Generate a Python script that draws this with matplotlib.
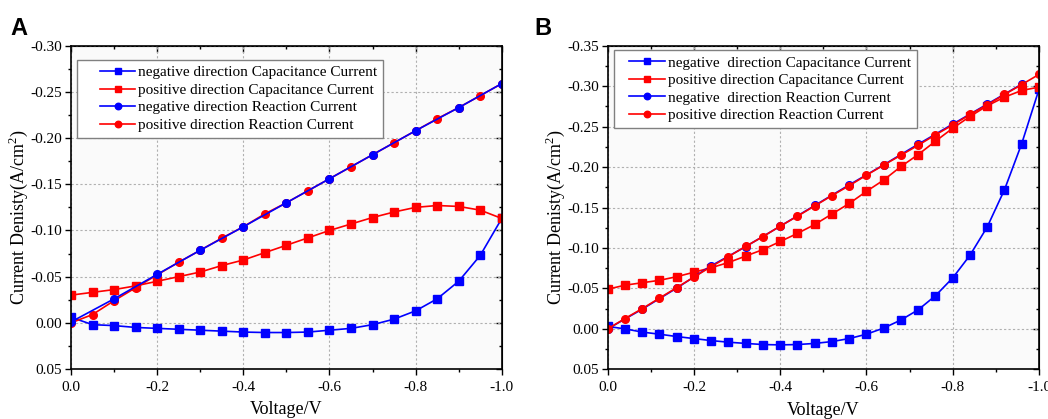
import numpy as np
import matplotlib
matplotlib.use('Agg')
import matplotlib.pyplot as plt
from matplotlib.ticker import MultipleLocator
from matplotlib.legend_handler import HandlerLine2D

plt.rcParams['font.family'] = ['Liberation Serif', 'DejaVu Serif']
plt.rcParams['mathtext.fontset'] = 'custom'
plt.rcParams['mathtext.rm'] = 'Liberation Serif'

# ---------- Panel A data ----------
xa_cap = [0.0, -0.05, -0.10, -0.15, -0.20, -0.25, -0.30, -0.35, -0.40, -0.45, -0.50,
          -0.55, -0.60, -0.65, -0.70, -0.75, -0.80, -0.85, -0.90, -0.95, -1.00]
a_neg_cap = [-0.006, 0.002, 0.003, 0.005, 0.006, 0.007, 0.008, 0.009, 0.010, 0.0105, 0.0105,
             0.010, 0.008, 0.006, 0.002, -0.004, -0.013, -0.026, -0.045, -0.073, -0.113]
a_pos_cap = [-0.030, -0.033, -0.036, -0.040, -0.045, -0.050, -0.055, -0.062, -0.068, -0.076, -0.084,
             -0.092, -0.100, -0.107, -0.114, -0.120, -0.125, -0.127, -0.126, -0.122, -0.113]
xa_neg_rea = [0.0, -0.1, -0.2, -0.3, -0.4, -0.5, -0.6, -0.7, -0.8, -0.9, -1.0]
a_neg_rea = [-0.001, -0.026, -0.0525, -0.0786, -0.104, -0.130, -0.156, -0.182, -0.208, -0.233, -0.259]
a_pos_rea = [0.0, -0.009, -0.024, -0.038, -0.052, -0.0656, -0.0786, -0.0917, -0.104, -0.118, -0.130,
             -0.143, -0.156, -0.169, -0.182, -0.195, -0.208, -0.221, -0.233, -0.246, -0.259]

# ---------- Panel B data ----------
xb_cap = [0.0, -0.04, -0.08, -0.12, -0.16, -0.20, -0.24, -0.28, -0.32, -0.36, -0.40, -0.44, -0.48,
          -0.52, -0.56, -0.60, -0.64, -0.68, -0.72, -0.76, -0.80, -0.84, -0.88, -0.92, -0.96, -1.00]
b_neg_cap = [-0.003, 0.000, 0.004, 0.0066, 0.0095, 0.012, 0.0145, 0.0165, 0.018, 0.0194, 0.0198, 0.0194, 0.018,
             0.0157, 0.012, 0.0066, -0.001, -0.011, -0.0236, -0.041, -0.063, -0.091, -0.126, -0.172, -0.229, -0.296]
b_pos_cap = [-0.049, -0.054, -0.057, -0.060, -0.0645, -0.070, -0.0756, -0.082, -0.090, -0.098, -0.108, -0.118, -0.129,
             -0.142, -0.155, -0.170, -0.184, -0.2007, -0.2155, -0.232, -0.248, -0.2625, -0.2757, -0.2864, -0.2947, -0.2988]
xb_neg_rea = [0.0, -0.08, -0.16, -0.24, -0.32, -0.40, -0.48, -0.56, -0.64, -0.72, -0.80, -0.88, -0.96]
b_neg_rea = [0.0, -0.0244, -0.0504, -0.078, -0.1017, -0.1269, -0.1525, -0.178, -0.2028, -0.2283, -0.2531, -0.2778, -0.3025]
b_pos_rea = [0.0, -0.0128, -0.025, -0.038, -0.051, -0.064, -0.077, -0.0893, -0.102, -0.114, -0.127, -0.1393, -0.152,
             -0.1648, -0.177, -0.190, -0.2025, -0.2147, -0.227, -0.2399, -0.252, -0.265, -0.277, -0.2897, -0.302, -0.3145]

labels_a = ['negative direction Capacitance Current', 'positive direction Capacitance Current',
            'negative direction Reaction Current', 'positive direction Reaction Current']
labels_b = ['negative  direction Capacitance Current', 'positive direction Capacitance Current',
            'negative  direction Reaction Current', 'positive direction Reaction Current']

BLUE = '#0000ff'
RED = '#ff0000'


class ShortHandle(HandlerLine2D):
    # legend line that starts a bit to the right (Origin-like indent)
    def __init__(self, frac, **kw):
        super().__init__(**kw)
        self.frac = frac

    def create_artists(self, legend, orig_handle, xdescent, ydescent, width, height, fontsize, trans):
        s = self.frac * width
        return super().create_artists(legend, orig_handle, xdescent - s, ydescent,
                                      width - s, height, fontsize, trans)


fig = plt.figure(figsize=(10.48, 4.19), dpi=100)
ax_a = fig.add_axes([0.0678, 0.1193, 0.4110, 0.7716])
ax_b = fig.add_axes([0.5799, 0.1186, 0.4115, 0.7723])


def style_axes(ax, ytop, ymajor):
    ax.set_facecolor('#fafafa')
    ax.set_xlim(0, -1.0)
    ax.set_ylim(0.05, ytop)
    ax.xaxis.set_major_locator(MultipleLocator(0.2))
    ax.xaxis.set_minor_locator(MultipleLocator(0.1))
    ax.yaxis.set_major_locator(MultipleLocator(ymajor))
    ax.yaxis.set_minor_locator(MultipleLocator(ymajor / 2))
    ax.xaxis.set_major_formatter(plt.FuncFormatter(lambda v, p: '%.1f' % v))
    ax.yaxis.set_major_formatter(plt.FuncFormatter(lambda v, p: '%.2f' % v))
    ax.grid(True, which='major', color='#b0b0b0', linestyle=(0, (2, 2)), linewidth=0.8)
    for s in ax.spines.values():
        s.set_linewidth(1.2)
    ax.tick_params(which='both', direction='out', labelsize=11, width=1.0)
    ax.tick_params(which='major', length=4.3)
    ax.tick_params(which='minor', length=2.5)
    ax.tick_params(axis='y', which='major', pad=2.2)
    ax.tick_params(axis='x', which='major', pad=4)
    ax2 = ax.secondary_xaxis('top')
    ax2.xaxis.set_major_locator(MultipleLocator(0.2))
    ax2.xaxis.set_minor_locator(MultipleLocator(0.1))
    ax2.tick_params(which='both', direction='in', labeltop=False, width=1.0)
    ax2.tick_params(which='major', length=4.3)
    ax2.tick_params(which='minor', length=2.5)
    ay2 = ax.secondary_yaxis('right')
    ay2.yaxis.set_major_locator(MultipleLocator(ymajor))
    ay2.yaxis.set_minor_locator(MultipleLocator(ymajor / 2))
    ay2.tick_params(which='both', direction='in', labelright=False, width=1.0)
    ay2.tick_params(which='major', length=4.3)
    ay2.tick_params(which='minor', length=2.5)
    ax.set_xlabel('Voltage/V', fontsize=13)
    ax.set_ylabel('Current Denisty(A/cm$^2$)', fontsize=13)
    ax.xaxis.set_label_coords(0.5, -0.10)
    ax.yaxis.set_label_coords(-0.095, 0.47)


kw = dict(linewidth=1.2, markersize=5.5)

# Panel A
ax_a.plot(xa_cap, a_neg_cap, '-s', color=BLUE, label=labels_a[0], **kw)
ax_a.plot(xa_cap, a_pos_cap, '-s', color=RED, label=labels_a[1], **kw)
ax_a.plot(xa_cap, a_pos_rea, '-o', color=RED, label=labels_a[3], **kw)
ax_a.plot(xa_neg_rea, a_neg_rea, '-o', color=BLUE, label=labels_a[2], **kw)
style_axes(ax_a, -0.30, 0.05)

# Panel B
ax_b.plot(xb_cap, b_neg_cap, '-s', color=BLUE, label=labels_b[0], **kw)
ax_b.plot(xb_cap, b_pos_cap, '-s', color=RED, label=labels_b[1], **kw)
ax_b.plot(xb_neg_rea, b_neg_rea, '-o', color=BLUE, label=labels_b[2], **kw)
ax_b.plot(xb_cap, b_pos_rea, '-o', color=RED, label=labels_b[3], **kw)
style_axes(ax_b, -0.35, 0.05)

for ax, labels, anchor, hl, frac in [(ax_a, labels_a, (0.014, 0.957), 3.4, 0.33),
                                     (ax_b, labels_b, (0.015, 0.987), 2.9, 0.2)]:
    h, l = ax.get_legend_handles_labels()
    order = [l.index(t) for t in labels]
    handles = [h[i] for i in order]
    leg = ax.legend(handles, [l[i] for i in order], loc='upper left',
                    bbox_to_anchor=anchor, borderaxespad=0, fontsize=11, fancybox=False,
                    framealpha=1, edgecolor='#808080', handlelength=hl, labelspacing=0.25,
                    handletextpad=0.2, borderpad=0.4, markerscale=0.85,
                    handler_map={hh: ShortHandle(frac) for hh in handles})
    leg.get_frame().set_linewidth(1.0)

fig.text(0.010, 0.9165, 'A', fontsize=17, fontweight='bold', family='Liberation Sans')
fig.text(0.5095, 0.9165, 'B', fontsize=17, fontweight='bold', family='Liberation Sans')

fig.savefig('out.png', dpi=100, facecolor='white')
